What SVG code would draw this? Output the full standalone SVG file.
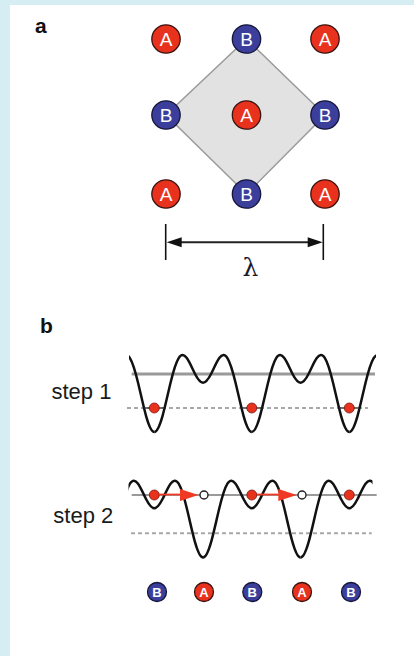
<svg xmlns="http://www.w3.org/2000/svg" width="414" height="656" viewBox="0 0 414 656">
<style>
.lbl{font-family:"Liberation Sans",Arial,sans-serif;font-weight:bold;font-size:21px;fill:#111}
.step{font-family:"Liberation Sans",Arial,sans-serif;font-size:22px;fill:#1a1a1a}
.ca{fill:#e8321e;stroke:#3a1410;stroke-width:1.3}
.cb{fill:#3b3f9b;stroke:#15163a;stroke-width:1.3}
.big{font-family:"Liberation Sans",Arial,sans-serif;font-size:19px;fill:#fff;text-anchor:middle}
.small{font-family:"Liberation Sans",Arial,sans-serif;font-weight:bold;font-size:13px;fill:#fff;text-anchor:middle}
.well{fill:none;stroke:#111;stroke-width:2.5}
.grey{stroke:#9a9a9a;fill:none}
.dash{stroke:#a8a8a8;stroke-width:2;stroke-dasharray:4 3;fill:none}
.dot{fill:#e8321e;stroke:#7a1a10;stroke-width:0.8}
.hole{fill:#fff;stroke:#222;stroke-width:1.4}
.arr{stroke:#f03a24;stroke-width:1.8;fill:none}
</style>
<defs>
<path id="period" d="M0,49.2 C2.708,49.2 5.417,43.184 8.125,33.6 C10.833,24.016 13.542,11.155 16.25,0 C18.958,-11.155 21.667,-20.306 24.375,-24.6 C27.083,-28.894 29.792,-28.318 32.5,-24.6 C35.208,-20.882 37.917,-14.29 40.625,-9 C43.333,-3.71 46.042,0 48.75,0 C51.458,0 54.167,-3.71 56.875,-9 C59.583,-14.29 62.292,-20.882 65,-24.6 C67.708,-28.318 70.417,-28.894 73.125,-24.6 C75.833,-20.306 78.542,-11.155 81.25,0 C83.958,11.155 86.667,24.016 89.375,33.6 C92.083,43.184 94.792,49.2 97.5,49.2"/>
<clipPath id="clip1"><rect x="129" y="340" width="247" height="100"/></clipPath>
<clipPath id="clip2"><rect x="128.5" y="470" width="244" height="100"/></clipPath>
</defs>
<rect x="0" y="0" width="414" height="656" fill="#d5edf3"/>
<rect x="10" y="5" width="404" height="651" fill="#fff"/>

<text class="lbl" x="35" y="33">a</text>
<text class="lbl" x="40" y="333">b</text>

<g id="cell">
<polygon points="246.5,39 325,115 246.5,194 166,115" fill="#e2e2e2" stroke="#9a9a9a" stroke-width="1.5"/>
</g>

<g id="lambda-scale">
<line x1="165.7" y1="224" x2="165.7" y2="260" stroke="#111" stroke-width="1.6"/>
<line x1="323.3" y1="224" x2="323.3" y2="260" stroke="#111" stroke-width="1.6"/>
<line x1="178" y1="242.3" x2="311" y2="242.3" stroke="#222" stroke-width="2"/>
<polygon points="166.7,242.3 181.7,237.3 181.7,247.3" fill="#111"/>
<polygon points="322.7,242.3 307.7,237.3 307.7,247.3" fill="#111"/>
<text x="250.5" y="276" font-family="'DejaVu Serif','Liberation Serif',serif" font-size="25" fill="#1a1a2e" text-anchor="middle">λ</text>
</g>

<g id="a-tl"><circle class="ca" cx="166" cy="39" r="14.2"/><text class="big" x="166" y="46">A</text></g>
<g id="b-t"><circle class="cb" cx="246.5" cy="39" r="14.2"/><text class="big" x="246.5" y="46">B</text></g>
<g id="a-tr"><circle class="ca" cx="325" cy="39" r="14.2"/><text class="big" x="325" y="46">A</text></g>
<g id="b-l"><circle class="cb" cx="166" cy="115" r="14.2"/><text class="big" x="166" y="122">B</text></g>
<g id="a-c"><circle class="ca" cx="246.5" cy="115" r="14.2"/><text class="big" x="246.5" y="122">A</text></g>
<g id="b-r"><circle class="cb" cx="325" cy="115" r="14.2"/><text class="big" x="325" y="122">B</text></g>
<g id="a-bl"><circle class="ca" cx="166" cy="194" r="14.2"/><text class="big" x="166" y="201">A</text></g>
<g id="b-b"><circle class="cb" cx="246.5" cy="194" r="14.2"/><text class="big" x="246.5" y="201">B</text></g>
<g id="a-br"><circle class="ca" cx="325" cy="194" r="14.2"/><text class="big" x="325" y="201">A</text></g>

<g id="step1">
<text class="step" x="51.5" y="398.5">step 1</text>
<line class="grey" x1="131.7" y1="374" x2="375" y2="374" stroke-width="3"/>
<line class="dash" x1="127" y1="408" x2="368" y2="408"/>
<g clip-path="url(#clip1)">
<g transform="translate(0,382.7)">
<use href="#period" class="well" x="56.8"/>
<use href="#period" class="well" x="154.3"/>
<use href="#period" class="well" x="251.8"/>
<use href="#period" class="well" x="349.3"/>
</g>
</g>
<g stroke="#333" stroke-width="1.4">
<line x1="144.3" y1="408" x2="164.3" y2="408"/>
<line x1="241.8" y1="408" x2="261.8" y2="408"/>
<line x1="339.3" y1="408" x2="359.3" y2="408"/>
</g>
<circle class="dot" cx="154.3" cy="408" r="5"/>
<circle class="dot" cx="251.8" cy="408" r="5"/>
<circle class="dot" cx="349.3" cy="408" r="5"/>
</g>

<g id="step2">
<text class="step" x="53.3" y="523">step 2</text>
<line class="grey" x1="131.7" y1="495" x2="376.7" y2="495" stroke-width="2"/>
<line class="dash" x1="131" y1="533.3" x2="371.7" y2="533.3"/>
<g clip-path="url(#clip2)">
<g transform="translate(0,508.3)">
<use href="#period" class="well" x="105.55"/>
<use href="#period" class="well" x="203.05"/>
<use href="#period" class="well" x="300.55"/>
</g>
</g>
<circle class="dot" cx="154.3" cy="495" r="5"/>
<circle class="dot" cx="251.8" cy="495" r="5"/>
<circle class="dot" cx="349.3" cy="495" r="5"/>
<circle class="hole" cx="204" cy="495" r="4"/>
<circle class="hole" cx="302" cy="495" r="4"/>
</g>

<g id="connectors">
<line class="arr" x1="159" y1="494.5" x2="184" y2="494.5"/>
<polygon points="198.5,495 180,489 180,501" fill="#f03a24"/>
<line class="arr" x1="257" y1="494.5" x2="282" y2="494.5"/>
<polygon points="296.7,495 278.3,489 278.3,501" fill="#f03a24"/>
</g>

<g id="bb1"><circle class="cb" cx="157" cy="592" r="9.5"/><text class="small" x="157" y="596.6">B</text></g>
<g id="ba1"><circle class="ca" cx="204" cy="592" r="9.5"/><text class="small" x="204" y="596.6">A</text></g>
<g id="bb2"><circle class="cb" cx="252.3" cy="592" r="9.5"/><text class="small" x="252.3" y="596.6">B</text></g>
<g id="ba2"><circle class="ca" cx="302" cy="592" r="9.5"/><text class="small" x="302" y="596.6">A</text></g>
<g id="bb3"><circle class="cb" cx="351" cy="592" r="9.5"/><text class="small" x="351" y="596.6">B</text></g>
</svg>
